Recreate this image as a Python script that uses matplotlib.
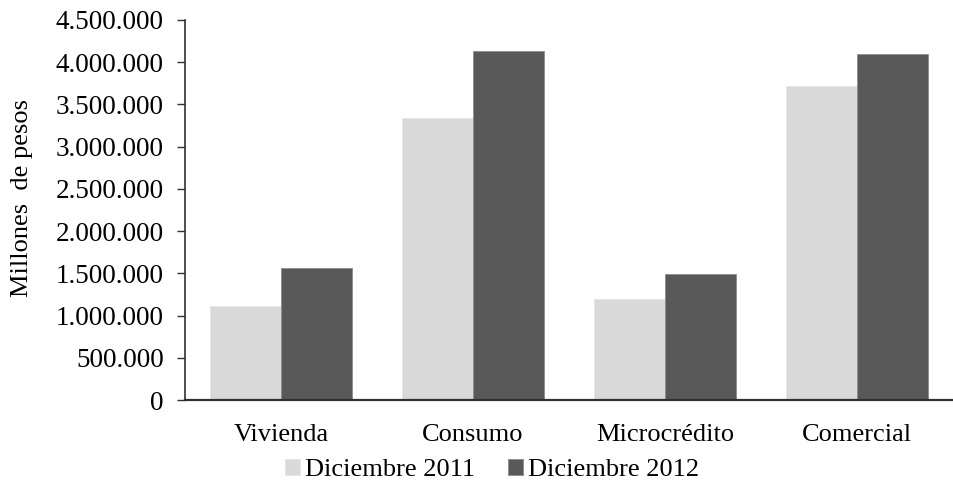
import matplotlib
matplotlib.use("Agg")
import matplotlib.pyplot as plt
import numpy as np
from matplotlib.ticker import FuncFormatter, MultipleLocator

categories = ["Vivienda", "Consumo", "Microcrédito", "Comercial"]
dic_2011 = [1117000, 3343000, 1196000, 3718000]
dic_2012 = [1567000, 4129000, 1489000, 4094000]
series_names = ["Diciembre 2011", "Diciembre 2012"]

plt.rcParams['font.family'] = ['Liberation Serif', 'DejaVu Serif']

W, H = 954, 483
fig = plt.figure(figsize=(W/100, H/100), dpi=100)
ax = fig.add_axes([185/W, (H-400)/H, (953-185)/W, 380/H])

x = np.arange(len(categories))
bw = 0.37
ax.bar(x - bw/2, dic_2011, bw, color='#D9D9D9', label=series_names[0], edgecolor='#E6E6E6', linewidth=0.6)
ax.bar(x + bw/2, dic_2012, bw, color='#595959', label=series_names[1], edgecolor='#8C8C8C', linewidth=0.6)

ax.set_xlim(-0.5, len(categories) - 0.5)
ax.set_ylim(0, 4500000)
ax.yaxis.set_major_locator(MultipleLocator(500000))
ax.yaxis.set_major_formatter(FuncFormatter(lambda v, p: f"{int(v):,}".replace(",", ".")))
ax.set_xticks(x)
ax.set_xticklabels(categories, fontsize=19)
ax.tick_params(axis='x', length=0, pad=17)
ax.tick_params(axis='y', labelsize=19.5, length=5.8, width=1, color='#303030', pad=9.5)

for s in ['top', 'right']:
    ax.spines[s].set_visible(False)
ax.spines['left'].set_color('#303030')
ax.spines['left'].set_linewidth(1.2)
ax.spines['bottom'].set_color('#303030')
ax.spines['bottom'].set_linewidth(1.6)

fig.text(22/W, 1 - 198/H, "Millones  de pesos", rotation=90, ha='center', va='center', fontsize=19)

fig.legend(loc='center', bbox_to_anchor=(492/W, 1 - 470/H), ncol=2, frameon=False,
           fontsize=19, handlelength=0.57, handleheight=0.57, handletextpad=0.2,
           columnspacing=1.25, borderaxespad=0)

fig.savefig("out.png", dpi=100)
